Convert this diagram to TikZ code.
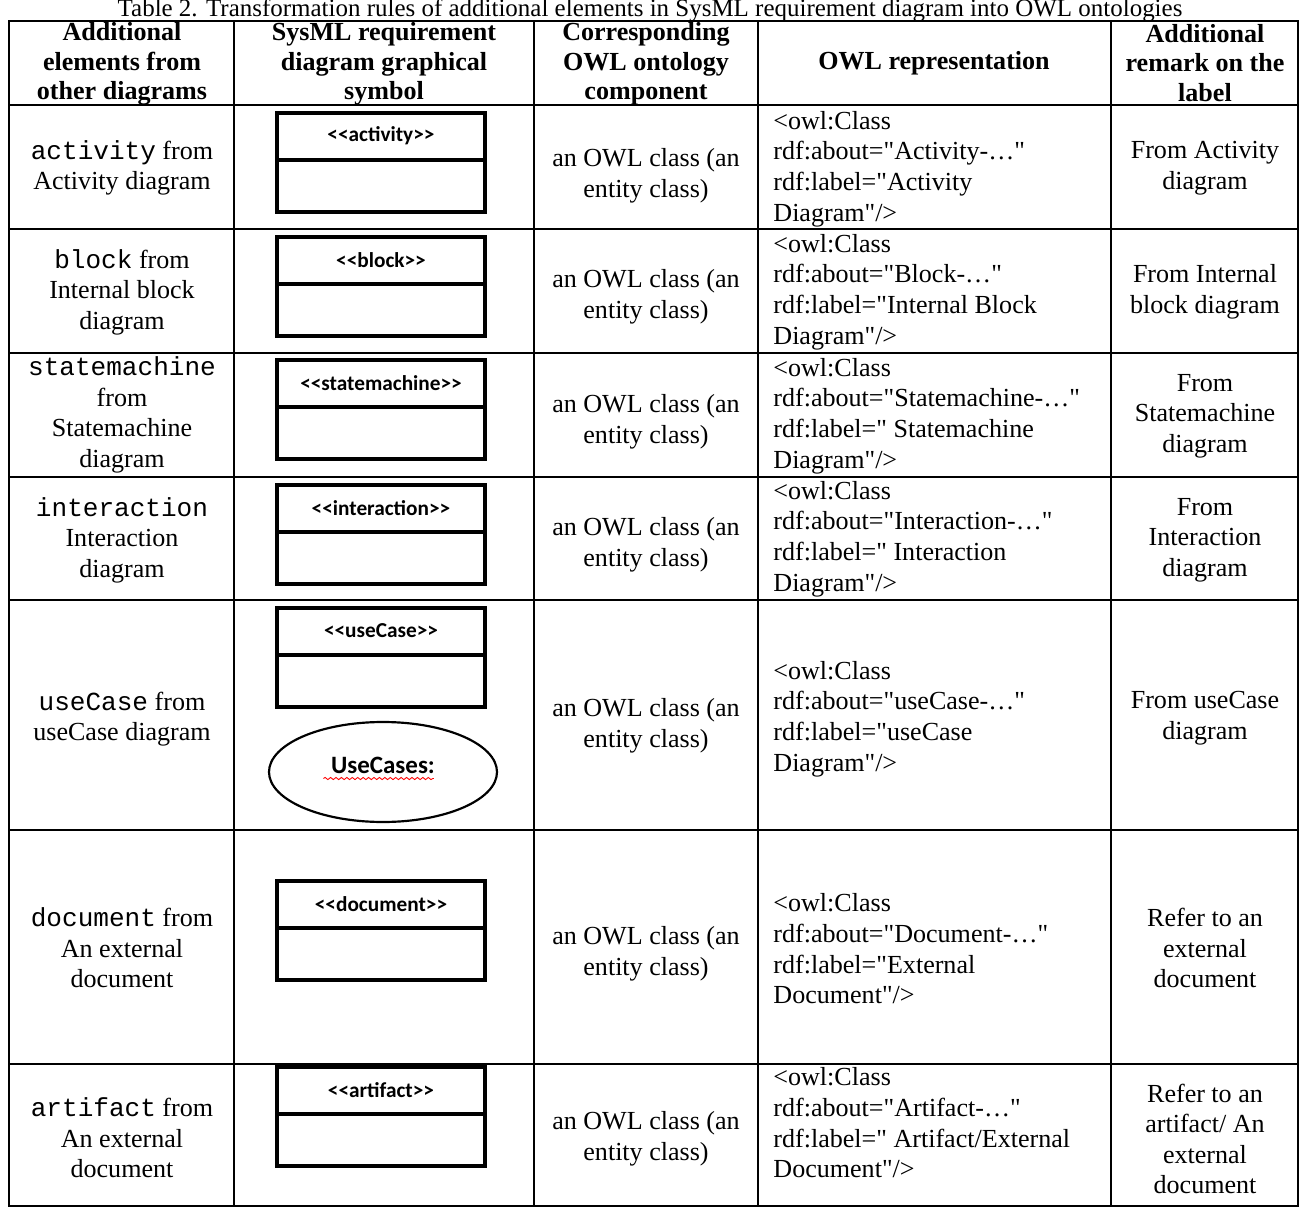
\documentclass[tikz,border=0pt]{standalone}
\usepackage{fontspec}
\setmainfont{Liberation Serif}[Ligatures=TeXOff]
\setmonofont{Liberation Mono}
\newfontfamily\calibri{Carlito}
\usetikzlibrary{decorations.pathmorphing}
\tikzset{
	txt/.style={align=center,font=\fontsize{12}{14.1}\selectfont},
	hd/.style={align=center,font=\fontsize{12}{13.6}\selectfont\bfseries},
	owl/.style={align=left,anchor=west,inner sep=0pt,font=\fontsize{12}{14.1}\selectfont},
	grid/.style={line width=0.9pt},
	uml/.style={line width=1.4pt},
	stereo/.style={font=\calibri\bfseries\fontsize{9.8}{11}\selectfont}
}
\begin{document}
\begin{tikzpicture}[x=0.4605pt,y=-0.4605pt]
	\useasboundingbox (0,0) rectangle (1301,1208);
	\node[anchor=base,font=\fontsize{11.5}{13}\selectfont] (cap) at (650,17) {Table 2. Transformation rules of additional elements in SysML requirement diagram into OWL ontologies};
	% table lines
	\draw[grid] (9,21) rectangle (1298,1206);
	\foreach \x in {234,534,758,1111} \draw[grid] (\x,21) -- (\x,1206);
	\foreach \y in {105,229,353,477,600,830,1064} \draw[grid] (9,\y) -- (1298,\y);
	% header
	\node[hd] (h1) at (122,64) {Additional\\elements from\\other diagrams};
	\node[hd] (h2) at (384,64) {SysML requirement\\diagram graphical\\symbol};
	\node[hd] (h3) at (646,64) {Corresponding\\OWL ontology\\component};
	\node[hd] (h4) at (934,63) {OWL representation};
	\node[hd] (h5) at (1205,63) {Additional\\remark on the\\label};
	% symbols
	\foreach \nm/\y in {activity/113,block/237,statemachine/360,interaction/485,useCase/608,document/881,artifact/1067}{
		\draw[uml] (277,\y) rectangle (485,\y+99);
		\draw[uml] (277,\y+47) -- (485,\y+47);
		\node[stereo] (s\nm) at (381,\y+23) {<{}<\nm>{}>};
	}
	\draw[line width=1pt] (383,772) ellipse (114 and 50);
	\node[font=\calibri\bfseries\fontsize{11.5}{13}\selectfont] (uc) at (383,765) {UseCases:};
	\draw[red,decorate,decoration={snake,amplitude=0.5pt,segment length=2.5pt}] ([yshift=-2.5pt]uc.base west) -- ([xshift=-4pt,yshift=-2.5pt]uc.base east);
	% activity
	\node[txt] (actel) at (122,168) {\texttt{activity} from\\Activity diagram};
	\node[txt] (actowl) at (646,176) {an OWL class (an\\entity class)};
	\node[owl] (actrep) at (773,169) {<owl:Class\\rdf:about="Activity-…"\\rdf:label="Activity\\Diagram"/>};
	\node[txt] (actrem) at (1205,168) {From Activity\\diagram};
	% block
	\node[txt] (blkel) at (122,292) {\texttt{block} from\\Internal block\\diagram};
	\node[txt] (blkowl) at (646,297) {an OWL class (an\\entity class)};
	\node[owl] (blkrep) at (773,292) {<owl:Class\\rdf:about="Block-…"\\rdf:label="Internal Block\\Diagram"/>};
	\node[txt] (blkrem) at (1205,292) {From Internal\\block diagram};
	% statemachine
	\node[txt] (stmel) at (122,415) {\texttt{statemachine}\\from\\Statemachine\\diagram};
	\node[txt] (stmowl) at (646,422) {an OWL class (an\\entity class)};
	\node[owl] (stmrep) at (773,416) {<owl:Class\\rdf:about="Statemachine-…"\\rdf:label=" Statemachine\\Diagram"/>};
	\node[txt] (stmrem) at (1205,416) {From\\Statemachine\\diagram};
	% interaction
	\node[txt] (intel) at (122,540) {\texttt{interaction}\\Interaction\\diagram};
	\node[txt] (intowl) at (646,545) {an OWL class (an\\entity class)};
	\node[owl] (intrep) at (773,539) {<owl:Class\\rdf:about="Interaction-…"\\rdf:label=" Interaction\\Diagram"/>};
	\node[txt] (intrem) at (1205,540) {From\\Interaction\\diagram};
	% useCase
	\node[txt] (ucel) at (122,719) {\texttt{useCase} from\\useCase diagram};
	\node[txt] (ucowl) at (646,726) {an OWL class (an\\entity class)};
	\node[owl] (ucrep) at (773,719) {<owl:Class\\rdf:about="useCase-…"\\rdf:label="useCase\\Diagram"/>};
	\node[txt] (ucrem) at (1205,718) {From useCase\\diagram};
	% document
	\node[txt] (docel) at (122,948) {\texttt{document} from\\An external\\document};
	\node[txt] (docowl) at (646,954) {an OWL class (an\\entity class)};
	\node[owl] (docrep) at (773,949) {<owl:Class\\rdf:about="Document-…"\\rdf:label="External\\Document"/>};
	\node[txt] (docrem) at (1205,948) {Refer to an\\external\\document};
	% artifact
	\node[txt] (artel) at (122,1138) {\texttt{artifact} from\\An external\\document};
	\node[txt] (artowl) at (646,1139) {an OWL class (an\\entity class)};
	\node[owl] (artrep) at (773,1123) {<owl:Class\\rdf:about="Artifact-…"\\rdf:label=" Artifact/External\\Document"/>};
	\node[txt] (artrem) at (1205,1139) {Refer to an\\artifact/ An\\external\\document};
\end{tikzpicture}
\end{document}
